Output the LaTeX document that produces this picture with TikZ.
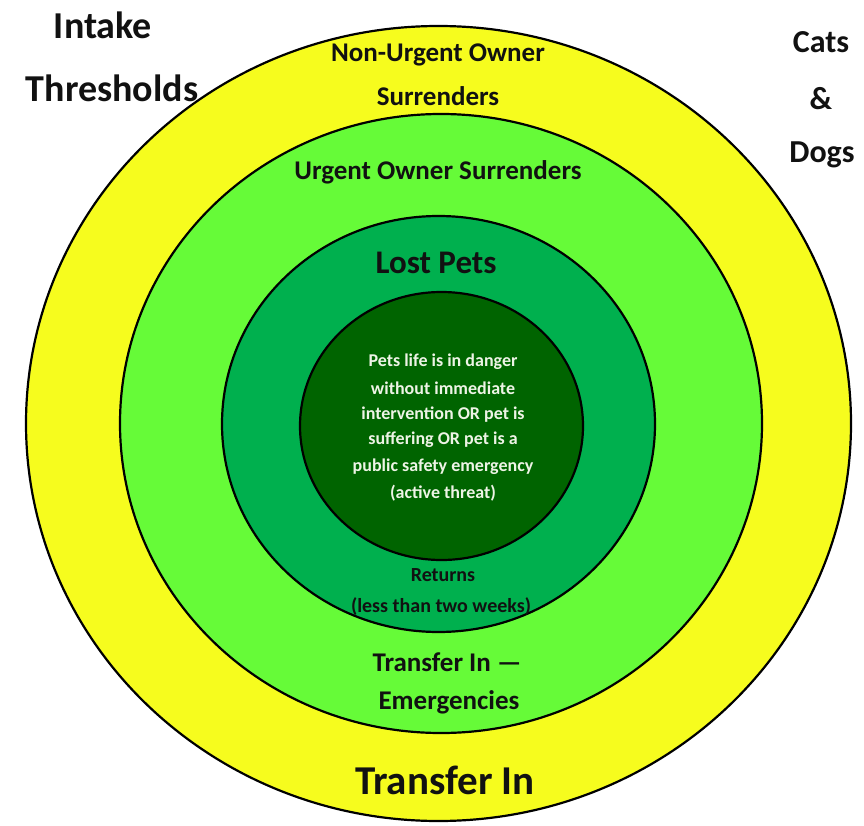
\documentclass[tikz,border=0pt]{standalone}
\usepackage{fontspec}
\setmainfont{Carlito}
\usetikzlibrary{shapes.geometric}
\definecolor{ringyellow}{HTML}{F6FC1E}
\definecolor{ringlight}{HTML}{66FB38}
\definecolor{ringmid}{HTML}{00B04E}
\definecolor{ringdark}{HTML}{006400}
\definecolor{inktext}{HTML}{111111}
\definecolor{paletext}{HTML}{EEF4E6}
\tikzset{
  ring/.style={ellipse, draw=black, line width=2.2pt, inner sep=0pt},
  lbl/.style={font=\bfseries, text=inktext, align=center, inner sep=0pt},
}
\newcommand{\fs}[1]{\fontsize{#1}{#1}\selectfont}
\begin{document}
\begin{tikzpicture}[x=1pt,y=-1pt]
\useasboundingbox[fill=white] (0,0) rectangle (864,826);
\node[ring, fill=ringyellow, minimum width=825pt, minimum height=795pt] (outer) at (438.5,423.5) {};
\node[ring, fill=ringlight, minimum width=642pt, minimum height=619pt] (urgent) at (441,423.5) {};
\node[ring, fill=ringmid, minimum width=433pt, minimum height=416pt] (lost) at (438.5,424) {};
\node[ring, fill=ringdark, minimum width=283pt, minimum height=268pt] (core) at (441.5,426) {};

\node[lbl, font=\bfseries\fs{38}] (intake) at (103,25) {Intake};
\node[lbl, font=\bfseries\fs{38}] (thresh) at (112,88) {Thresholds};
\node[lbl, font=\bfseries\fs{32}] (cats) at (821,42) {Cats};
\node[lbl, font=\bfseries\fs{32}] (amp) at (821,99) {\&};
\node[lbl, font=\bfseries\fs{32}] (dogs) at (822,155) {Dogs};

\node[lbl, font=\bfseries\fs{27}] (nonurg1) at (438,55) {Non-Urgent Owner};
\node[lbl, font=\bfseries\fs{27}] (nonurg2) at (438,96) {Surrenders};
\node[lbl, font=\bfseries\fs{27}] (urg) at (438,172) {Urgent Owner Surrenders};
\node[lbl, font=\bfseries\fs{33}] (lostlbl) at (436,263) {Lost Pets};

\node[lbl, font=\bfseries\fs{18}, text=paletext] (c1) at (443,362) {Pets life is in danger};
\node[lbl, font=\bfseries\fs{18}, text=paletext] (c2) at (443,388) {without immediate};
\node[lbl, font=\bfseries\fs{18}, text=paletext] (c3) at (443,415) {intervention OR pet is};
\node[lbl, font=\bfseries\fs{18}, text=paletext] (c4) at (443,440) {suffering OR pet is a};
\node[lbl, font=\bfseries\fs{18}, text=paletext] (c5) at (443,467) {public safety emergency};
\node[lbl, font=\bfseries\fs{18}, text=paletext] (c6) at (443,493) {(active threat)};

\node[lbl, font=\bfseries\fs{20}] (ret1) at (443,575) {Returns};
\node[lbl, font=\bfseries\fs{20}] (ret2) at (441,607) {(less than two weeks)};
\node[lbl, font=\bfseries\fs{27}] (te1) at (447,662) {Transfer In —};
\node[lbl, font=\bfseries\fs{27}] (te2) at (449,702) {Emergencies};
\node[lbl, font=\bfseries\fs{41}] (tin) at (445,780) {Transfer In};
\end{tikzpicture}
\end{document}
